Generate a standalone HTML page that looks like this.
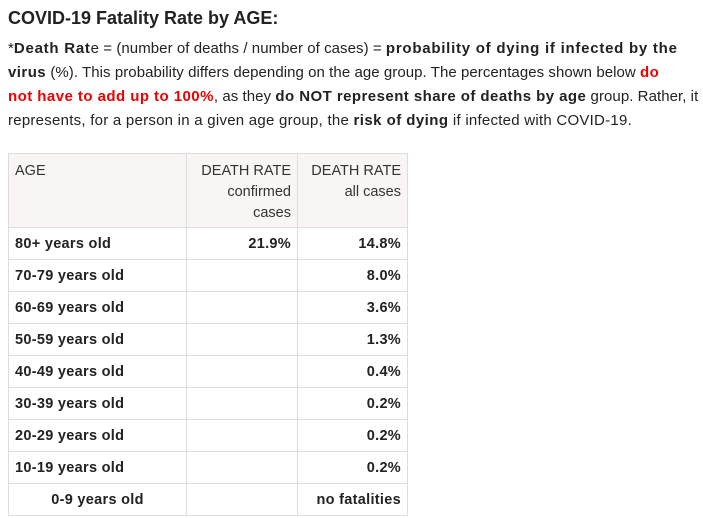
<!DOCTYPE html>
<html><head><meta charset="utf-8"><style>
body{margin:0;background:#fff;font-family:"Liberation Sans","DejaVu Sans",sans-serif;color:#222;width:703px;height:518px;overflow:hidden}
h1{position:absolute;left:8px;top:6px;margin:0;font-size:18px;font-weight:bold;line-height:24px;white-space:nowrap}
.p{position:absolute;left:8px;top:37px;font-size:15px;line-height:24px;white-space:nowrap;letter-spacing:0.06px}
.p b,.r{letter-spacing:0.45px}
.p .l1 b{letter-spacing:0.75px}
.l4{letter-spacing:0.25px}
.r{color:#e00;font-weight:bold}
table{position:absolute;left:8px;top:153px;border-collapse:collapse;font-size:14.5px}
td{border:1px solid #ddd;padding:0 6px;height:31px;color:#222}
thead td{background:#f9f5f4;vertical-align:top;padding-top:7px;height:66px;line-height:21px;color:#333}
tbody td{font-weight:bold;letter-spacing:0.3px}
.a{width:165px}.b{width:98px;text-align:right}.c{width:97px;text-align:right}
</style></head><body>
<h1>COVID-19 Fatality Rate by AGE:</h1>
<div class="p"><span class="l1">*<b>Death Rat</b>e = (number of deaths / number of cases) = <b>probability of dying if infected by the</b></span><br>
<b>virus</b> (%). This probability differs depending on the age group. The percentages shown below <span class="r">do</span><br>
<span class="r">not have to add up to 100%</span>, as they <b>do NOT represent share of deaths by age</b> group. Rather, it<br>
<span class="l4">represents, for a person in a given age group, the <b>risk of dying</b> if infected with COVID-19.</span></div>
<table>
<thead><tr><td class="a">AGE</td><td class="b">DEATH RATE<br>confirmed<br>cases</td><td class="c">DEATH RATE<br>all cases</td></tr></thead>
<tbody>
<tr><td>80+ years old</td><td class="b">21.9%</td><td class="c">14.8%</td></tr>
<tr><td>70-79 years old</td><td class="b"></td><td class="c">8.0%</td></tr>
<tr><td>60-69 years old</td><td class="b"></td><td class="c">3.6%</td></tr>
<tr><td>50-59 years old</td><td class="b"></td><td class="c">1.3%</td></tr>
<tr><td>40-49 years old</td><td class="b"></td><td class="c">0.4%</td></tr>
<tr><td>30-39 years old</td><td class="b"></td><td class="c">0.2%</td></tr>
<tr><td>20-29 years old</td><td class="b"></td><td class="c">0.2%</td></tr>
<tr><td>10-19 years old</td><td class="b"></td><td class="c">0.2%</td></tr>
<tr><td style="text-align:center">0-9 years old</td><td class="b"></td><td class="c">no fatalities</td></tr>
</tbody></table>
</body></html>
